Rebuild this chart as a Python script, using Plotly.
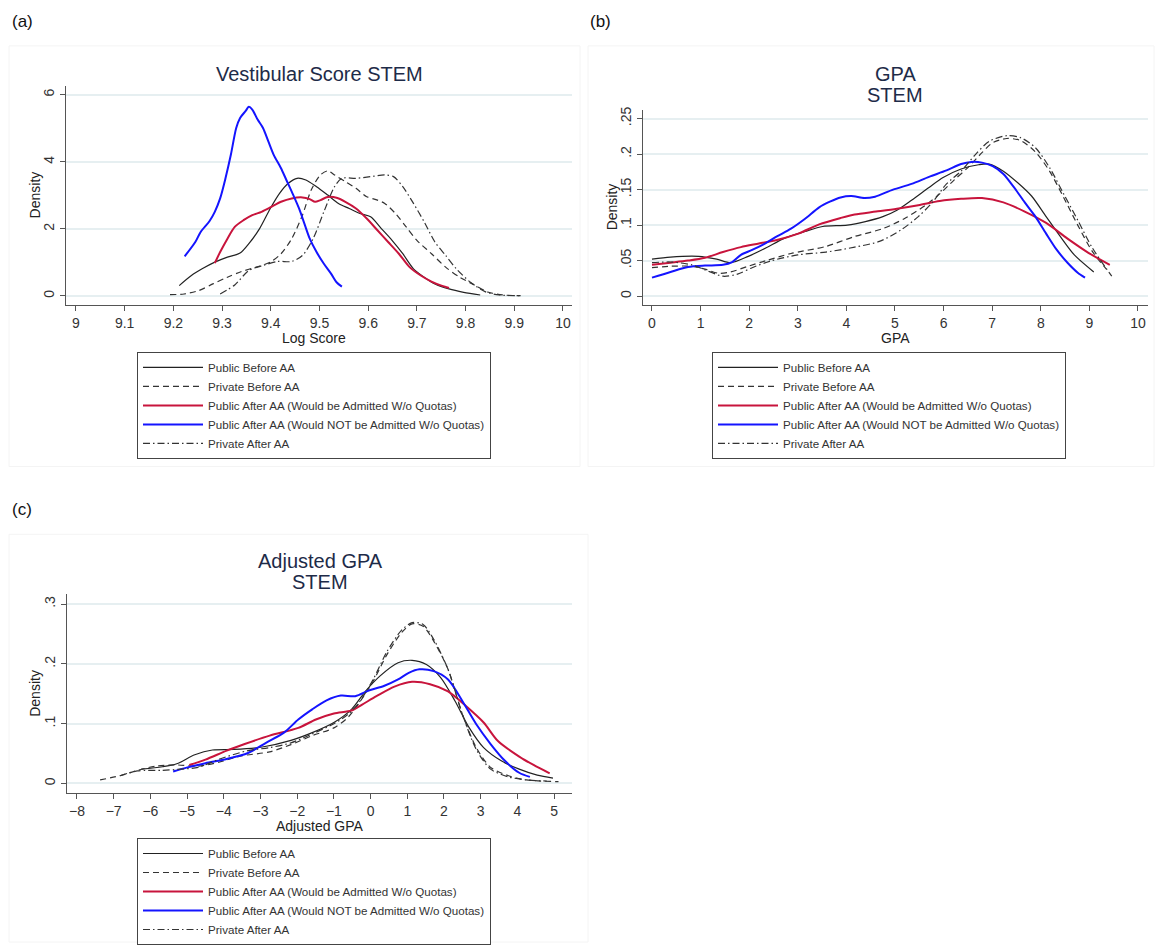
import plotly.graph_objects as go

# ---------------- data ----------------
SERIES = [
    "Public Before AA",
    "Private Before AA",
    "Public After AA (Would be Admitted W/o Quotas)",
    "Public After AA (Would NOT be Admitted W/o Quotas)",
    "Private After AA",
]

# Panel (a): Vestibular Score STEM (Log Score)
a_pub_before_x = [9.212, 9.237, 9.259, 9.285, 9.311, 9.337, 9.355, 9.377, 9.399, 9.418, 9.436, 9.454, 9.472, 9.494,
                  9.517, 9.539, 9.561, 9.583, 9.605, 9.627, 9.649, 9.671, 9.693, 9.715, 9.737, 9.766, 9.796, 9.83]
a_pub_before_y = [0.31, 0.61, 0.81, 1.01, 1.16, 1.28, 1.56, 2.01, 2.61, 3.06, 3.36, 3.51, 3.46, 3.26,
                  3.01, 2.76, 2.61, 2.46, 2.36, 2.01, 1.66, 1.26, 0.81, 0.56, 0.36, 0.21, 0.11, 0.03]
a_priv_before_x = [9.193, 9.222, 9.252, 9.281, 9.311, 9.340, 9.370, 9.399, 9.421, 9.443, 9.465, 9.483, 9.502, 9.517,
                   9.531, 9.553, 9.575, 9.597, 9.619, 9.634, 9.656, 9.678, 9.700, 9.730, 9.759, 9.788, 9.818, 9.847,
                   9.877, 9.913]
a_priv_before_y = [0.04, 0.06, 0.16, 0.36, 0.56, 0.73, 0.86, 1.01, 1.26, 1.71, 2.41, 3.16, 3.61, 3.73,
                   3.61, 3.41, 3.21, 2.96, 2.86, 2.76, 2.46, 2.06, 1.66, 1.26, 0.86, 0.56, 0.33, 0.11,
                   0.03, 0.01]
a_pub_adm_x = [9.285, 9.296, 9.311, 9.326, 9.344, 9.362, 9.381, 9.399, 9.421, 9.443, 9.465, 9.480, 9.491, 9.502,
               9.517, 9.535, 9.553, 9.575, 9.597, 9.619, 9.641, 9.663, 9.685, 9.708, 9.730, 9.752, 9.766]
a_pub_adm_y = [0.98, 1.31, 1.71, 2.06, 2.26, 2.41, 2.51, 2.64, 2.81, 2.91, 2.94, 2.89, 2.81, 2.86,
               2.95, 2.93, 2.81, 2.61, 2.31, 1.96, 1.61, 1.26, 0.86, 0.61, 0.43, 0.30, 0.24]
a_pub_not_x = [9.223, 9.245, 9.256, 9.274, 9.285, 9.296, 9.307, 9.318, 9.329, 9.337, 9.348, 9.355, 9.362, 9.373,
               9.384, 9.395, 9.406, 9.421, 9.432, 9.443, 9.458, 9.469, 9.480, 9.494, 9.509, 9.524, 9.535, 9.546]
a_pub_not_y = [1.18, 1.61, 1.91, 2.23, 2.51, 2.91, 3.51, 4.21, 5.01, 5.31, 5.51, 5.64, 5.56, 5.26,
               5.01, 4.61, 4.21, 3.81, 3.46, 3.11, 2.61, 2.16, 1.71, 1.31, 0.96, 0.66, 0.41, 0.28]
a_priv_after_x = [9.296, 9.326, 9.355, 9.384, 9.414, 9.443, 9.465, 9.487, 9.509, 9.531, 9.546, 9.575, 9.605, 9.634,
                  9.652, 9.671, 9.693, 9.715, 9.737, 9.759, 9.781, 9.810, 9.840, 9.869, 9.913]
a_priv_after_y = [0.06, 0.33, 0.76, 0.91, 1.03, 1.03, 1.21, 1.71, 2.51, 3.26, 3.51, 3.51, 3.56, 3.61,
                  3.56, 3.26, 2.76, 2.21, 1.61, 1.21, 0.81, 0.41, 0.13, 0.03, 0.01]

# Panel (b): GPA STEM
b_pub_before_x = [0, 0.38, 0.96, 1.33, 1.62, 1.98, 2.35, 2.71, 3.15, 3.51, 4.02, 4.39, 4.75, 5.04, 5.34, 5.70,
                  5.99, 6.36, 6.72, 6.94, 7.23, 7.52, 7.81, 8.11, 8.40, 8.69, 9.09]
b_pub_before_y = [0.052, 0.055, 0.056, 0.052, 0.047, 0.056, 0.068, 0.081, 0.091, 0.098, 0.100, 0.105, 0.112,
                  0.121, 0.135, 0.153, 0.167, 0.179, 0.185, 0.186, 0.176, 0.160, 0.141, 0.112, 0.084, 0.058, 0.034]
b_priv_before_x = [0, 0.38, 0.82, 1.09, 1.38, 1.62, 1.98, 2.35, 2.86, 3.58, 4.17, 4.75, 5.19, 5.63, 5.92, 6.21,
                   6.50, 6.79, 7.01, 7.30, 7.59, 7.89, 8.18, 8.47, 8.76, 9.06, 9.35]
b_priv_before_y = [0.040, 0.042, 0.042, 0.038, 0.032, 0.034, 0.042, 0.050, 0.060, 0.070, 0.084, 0.095, 0.109,
                   0.128, 0.144, 0.163, 0.181, 0.202, 0.216, 0.222, 0.219, 0.203, 0.176, 0.139, 0.100, 0.063, 0.038]
b_pub_adm_x = [0, 0.38, 0.74, 1.09, 1.46, 1.83, 2.20, 2.57, 3.01, 3.44, 3.88, 4.17, 4.61, 5.04, 5.48, 5.92,
               6.36, 6.79, 7.23, 7.67, 8.11, 8.55, 8.98, 9.42]
b_pub_adm_y = [0.044, 0.047, 0.050, 0.054, 0.062, 0.069, 0.074, 0.079, 0.088, 0.101, 0.110, 0.115, 0.119,
               0.123, 0.128, 0.134, 0.137, 0.138, 0.132, 0.119, 0.103, 0.081, 0.061, 0.044]
b_pub_not_x = [0, 0.38, 0.74, 1.09, 1.46, 1.65, 1.83, 2.06, 2.35, 2.57, 2.86, 3.15, 3.44, 3.66, 3.88, 4.10,
               4.37, 4.59, 4.96, 5.34, 5.70, 6.06, 6.36, 6.57, 6.79, 7.01, 7.23, 7.45, 7.67, 7.89, 8.11,
               8.33, 8.55, 8.76, 8.91]
b_pub_not_y = [0.026, 0.034, 0.041, 0.043, 0.044, 0.048, 0.058, 0.065, 0.075, 0.084, 0.095, 0.109, 0.125,
               0.133, 0.139, 0.141, 0.138, 0.140, 0.150, 0.158, 0.168, 0.177, 0.186, 0.189, 0.188, 0.183,
               0.172, 0.153, 0.132, 0.112, 0.088, 0.065, 0.047, 0.033, 0.026]
b_priv_after_x = [0, 0.38, 0.82, 1.09, 1.46, 1.76, 2.06, 2.42, 3.00, 3.58, 4.17, 4.68, 5.12, 5.48, 5.77, 6.06,
                  6.36, 6.65, 6.94, 7.30, 7.59, 7.89, 8.18, 8.47, 8.76, 9.06, 9.46]
b_priv_after_y = [0.047, 0.048, 0.044, 0.037, 0.028, 0.031, 0.040, 0.049, 0.058, 0.062, 0.069, 0.077, 0.093,
                  0.112, 0.132, 0.158, 0.176, 0.199, 0.218, 0.226, 0.223, 0.209, 0.181, 0.144, 0.107, 0.068, 0.028]

# Panel (c): Adjusted GPA STEM
c_pub_before_x = [-6.25, -5.67, -5.28, -4.79, -4.31, -3.72, -2.95, -2.17, -1.59, -1.00, -0.52, -0.13, 0.26,
                  0.75, 1.13, 1.52, 1.91, 2.30, 2.69, 3.08, 3.56, 4.05, 4.54, 4.97]
c_pub_before_y = [0.024, 0.028, 0.033, 0.048, 0.056, 0.057, 0.061, 0.072, 0.085, 0.102, 0.124, 0.155, 0.180,
                  0.202, 0.206, 0.199, 0.177, 0.138, 0.093, 0.060, 0.038, 0.024, 0.014, 0.009]
c_priv_before_x = [-7.37, -6.83, -6.35, -5.86, -5.28, -4.70, -4.11, -3.53, -2.75, -2.17, -1.59, -1.00, -0.61,
                   -0.32, 0.07, 0.45, 0.84, 1.13, 1.43, 1.72, 2.11, 2.50, 2.88, 3.27, 3.76, 4.24, 5.12]
c_priv_before_y = [0.006, 0.013, 0.022, 0.029, 0.031, 0.029, 0.036, 0.046, 0.053, 0.065, 0.080, 0.093, 0.111,
                   0.134, 0.171, 0.216, 0.252, 0.267, 0.263, 0.238, 0.191, 0.116, 0.060, 0.027, 0.013, 0.006, 0.003]
c_pub_adm_x = [-4.94, -4.50, -3.92, -3.43, -2.75, -1.97, -1.49, -1.00, -0.52, -0.23, 0.16, 0.65, 1.13, 1.62,
               2.11, 2.59, 3.08, 3.47, 4.05, 4.44, 4.88]
c_pub_adm_y = [0.031, 0.040, 0.055, 0.066, 0.080, 0.093, 0.107, 0.117, 0.122, 0.132, 0.146, 0.162, 0.170,
               0.166, 0.154, 0.130, 0.102, 0.071, 0.045, 0.031, 0.017]
c_pub_not_x = [-5.38, -4.99, -4.50, -3.92, -3.34, -2.85, -2.36, -1.97, -1.59, -1.20, -0.81, -0.42, -0.03, 0.36,
               0.75, 1.04, 1.33, 1.72, 2.11, 2.50, 2.88, 3.27, 3.66, 4.05, 4.34]
c_pub_not_y = [0.020, 0.027, 0.034, 0.041, 0.051, 0.068, 0.085, 0.107, 0.124, 0.139, 0.147, 0.146, 0.156,
               0.163, 0.174, 0.185, 0.191, 0.188, 0.174, 0.138, 0.099, 0.066, 0.038, 0.018, 0.011]
c_priv_after_x = [-6.83, -6.35, -5.67, -5.18, -4.70, -4.11, -3.34, -2.75, -2.17, -1.59, -1.00, -0.61, -0.32,
                  0.07, 0.45, 0.84, 1.13, 1.43, 1.72, 2.11, 2.50, 2.88, 3.27, 3.76, 4.24, 4.80]
c_priv_after_y = [0.013, 0.021, 0.022, 0.024, 0.027, 0.041, 0.055, 0.060, 0.068, 0.083, 0.100, 0.116, 0.135,
                  0.174, 0.221, 0.256, 0.269, 0.266, 0.241, 0.191, 0.116, 0.057, 0.024, 0.011, 0.006, 0.004]

a_ticks = [9, 9.1, 9.2, 9.3, 9.4, 9.5, 9.6, 9.7, 9.8, 9.9, 10]
a_yticks = [0, 2, 4, 6]
b_ticks = [0, 1, 2, 3, 4, 5, 6, 7, 8, 9, 10]
b_yticks = [0, 0.05, 0.1, 0.15, 0.2, 0.25]
b_yticklabels = ["0", ".05", ".1", ".15", ".2", ".25"]
c_ticks = [-8, -7, -6, -5, -4, -3, -2, -1, 0, 1, 2, 3, 4, 5]
c_yticks = [0, 0.1, 0.2, 0.3]
c_yticklabels = ["0", ".1", ".2", ".3"]

# ---------------- styling ----------------
W, H = 1155, 945
FONT = "Liberation Sans, Arial, sans-serif"
STYLES = [
    dict(color="#222222", width=1.2, dash="solid"),
    dict(color="#333333", width=1.2, dash="6px,4px"),
    dict(color="#c8143c", width=2.0, dash="solid"),
    dict(color="#1414ff", width=2.0, dash="solid"),
    dict(color="#333333", width=1.2, dash="7px,3px,1.5px,3px"),
]
TITLE_COLOR = "#1e2b48"
GRID = "#e6eff1"
AXIS_COLOR = "#555555"


def px_x(p):
    return p / W


def px_y(p):
    return 1 - p / H


fig = go.Figure()

panels = [
    ("", "", "legend", [(a_pub_before_x, a_pub_before_y), (a_priv_before_x, a_priv_before_y),
                        (a_pub_adm_x, a_pub_adm_y), (a_pub_not_x, a_pub_not_y), (a_priv_after_x, a_priv_after_y)]),
    ("2", "2", "legend2", [(b_pub_before_x, b_pub_before_y), (b_priv_before_x, b_priv_before_y),
                           (b_pub_adm_x, b_pub_adm_y), (b_pub_not_x, b_pub_not_y), (b_priv_after_x, b_priv_after_y)]),
    ("3", "3", "legend3", [(c_pub_before_x, c_pub_before_y), (c_priv_before_x, c_priv_before_y),
                           (c_pub_adm_x, c_pub_adm_y), (c_pub_not_x, c_pub_not_y), (c_priv_after_x, c_priv_after_y)]),
]

for xs, ys, leg, data in panels:
    for name, (xv, yv), st in zip(SERIES, data, STYLES):
        fig.add_trace(go.Scatter(
            x=xv, y=yv, mode="lines", name=name,
            line=dict(color=st["color"], width=st["width"], dash=st["dash"], shape="spline", smoothing=0.8),
            xaxis="x" + xs, yaxis="y" + ys, legend=leg, hoverinfo="skip",
        ))

axis_common = dict(showline=True, linecolor=AXIS_COLOR, linewidth=1, ticks="outside", ticklen=5,
                   tickcolor=AXIS_COLOR, tickfont=dict(family=FONT, size=14, color="#333333"),
                   zeroline=False, showgrid=False)
yaxis_common = dict(axis_common, showgrid=True, gridcolor=GRID, gridwidth=1.5, tickangle=-90)

# panel pixel boxes: (left, right, top, bottom)
A = (66, 572, 83, 303)
B = (643, 1148, 107, 303)
C = (67, 572, 593, 793)

fig.update_layout(
    width=W, height=H, margin=dict(l=0, r=0, t=0, b=0),
    paper_bgcolor="white", plot_bgcolor="white",
    font=dict(family=FONT, color="#222222"),
    xaxis=dict(axis_common, domain=[px_x(A[0]), px_x(A[1])], range=[8.9795, 10.0185],
               tickvals=a_ticks, ticktext=[f"{t:g}" for t in a_ticks], anchor="y"),
    yaxis=dict(yaxis_common, domain=[px_y(A[3]), px_y(A[2])], range=[-0.27, 6.27],
               tickvals=a_yticks, anchor="x"),
    xaxis2=dict(axis_common, domain=[px_x(B[0]), px_x(B[1])], range=[-0.185, 10.206],
                tickvals=b_ticks, anchor="y2"),
    yaxis2=dict(yaxis_common, domain=[px_y(B[3]), px_y(B[2])], range=[-0.0126, 0.2626],
                tickvals=b_yticks, ticktext=b_yticklabels, anchor="x2"),
    xaxis3=dict(axis_common, domain=[px_x(C[0]), px_x(C[1])], range=[-8.272, 5.488],
                tickvals=c_ticks, anchor="y3"),
    yaxis3=dict(yaxis_common, domain=[px_y(C[3]), px_y(C[2])], range=[-0.0167, 0.3167],
                tickvals=c_yticks, ticktext=c_yticklabels, anchor="x3"),
)

legend_common = dict(bgcolor="white", bordercolor="#444444", borderwidth=1,
                     font=dict(family=FONT, size=11.6, color="#333333"),
                     xanchor="left", yanchor="top", itemwidth=60, tracegroupgap=0,
                     itemclick=False, itemdoubleclick=False)
fig.update_layout(
    legend=dict(legend_common, x=px_x(137), y=px_y(350)),
    legend2=dict(legend_common, x=px_x(712), y=px_y(350)),
    legend3=dict(legend_common, x=px_x(137), y=px_y(838)),
)

ann = []


def text(x, y, s, size, color="#222222", angle=0, xanchor="center"):
    ann.append(dict(x=px_x(x), y=px_y(y), xref="paper", yref="paper", text=s, showarrow=False,
                    font=dict(family=FONT, size=size, color=color), textangle=angle,
                    xanchor=xanchor, yanchor="middle"))


# panel labels
text(10, 19, "(a)", 17, "#111111", xanchor="left")
text(588, 19, "(b)", 17, "#111111", xanchor="left")
text(10, 508, "(c)", 17, "#111111", xanchor="left")
# titles
text(319, 71, "Vestibular Score STEM", 20, TITLE_COLOR)
text(895, 71, "GPA", 20, TITLE_COLOR)
text(895, 92, "STEM", 20, TITLE_COLOR)
text(320, 560, "Adjusted GPA", 20, TITLE_COLOR)
text(320, 581, "STEM", 20, TITLE_COLOR)
# axis titles
text(314, 336, "Log Score", 14)
text(895, 336, "GPA", 14)
text(320, 826, "Adjusted GPA", 14)
text(35, 193, "Density", 14, angle=-90)
text(612, 205, "Density", 14, angle=-90)
text(35, 693, "Density", 14, angle=-90)

fig.update_layout(annotations=ann)

# faint graph-region borders
for (x0, y0, x1, y1) in [(9, 43, 580, 465), (588, 43, 1154, 465), (9, 533, 588, 942)]:
    fig.add_shape(type="rect", xref="paper", yref="paper", x0=px_x(x0), x1=px_x(x1), y0=px_y(y1), y1=px_y(y0),
                  line=dict(color="#f4f4f4", width=1), fillcolor="rgba(0,0,0,0)", layer="below")

fig.write_html("out.html")
